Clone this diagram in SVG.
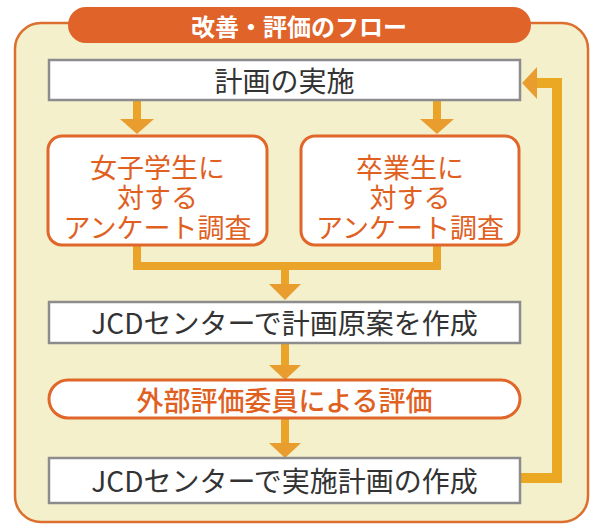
<svg xmlns="http://www.w3.org/2000/svg" width="595" height="524" viewBox="0 0 595 524">
<style>
  text { font-family: "Noto Sans CJK JP", "Noto Sans", sans-serif; text-anchor: middle; dominant-baseline: central; }
  .gbox { fill: #ffffff; stroke: #8c8c8c; stroke-width: 2.5; }
  .obox { fill: #ffffff; stroke: #e0662a; stroke-width: 3; }
  .gtxt { fill: #333333; font-size: 28px; }
  .otxt { fill: #e0611f; font-size: 27px; }
  .flow { fill: none; stroke: #eaa42a; stroke-width: 8; }
  .loop { fill: none; stroke: #eaa823; stroke-width: 10; }
  .head { fill: #e99d2f; }
</style>
<rect width="595" height="524" fill="#ffffff"/>
<g id="panel">
  <rect x="15" y="23" width="573" height="499" rx="26" fill="#f5f0cc" stroke="#dd6f2e" stroke-width="2.5"/>
</g>
<g id="title">
  <rect x="68" y="7" width="463" height="36" rx="18" fill="#e0632a"/>
  <text x="299" y="25" fill="#ffffff" font-size="24" font-weight="bold">改善・評価のフロー</text>
</g>
<g id="connectors">
  <line class="flow" x1="137" y1="100" x2="137" y2="120"/>
  <polygon class="head" points="120,119 154,119 137,134"/>
  <line class="flow" x1="437" y1="100" x2="437" y2="120"/>
  <polygon class="head" points="420,119 454,119 437,134"/>
  <polyline class="flow" points="137,245 137,266 437,266 437,245"/>
  <line class="flow" x1="285" y1="266" x2="285" y2="285"/>
  <polygon class="head" points="269,284 301,284 285,300"/>
  <line class="flow" x1="285" y1="343" x2="285" y2="366"/>
  <polygon class="head" points="269,365 301,365 285,380"/>
  <line class="flow" x1="285" y1="418" x2="285" y2="444"/>
  <polygon class="head" points="269,443 301,443 285,458"/>
  <polyline class="loop" points="520,478 557,478 557,83 536,83"/>
  <polygon class="head" points="537,67 537,99 522,83" fill="#eaa42a"/>
</g>
<g id="node-plan">
  <rect class="gbox" x="49" y="60" width="471" height="40"/>
  <text class="gtxt" x="284.5" y="80" font-size="29">計画の実施</text>
</g>
<g id="node-survey-female">
  <rect class="obox" x="48" y="136" width="219" height="109" rx="14"/>
  <text class="otxt"><tspan x="157.5" y="166">女子学生に</tspan><tspan x="157.5" y="196">対する</tspan><tspan x="157.5" y="226">アンケート調査</tspan></text>
</g>
<g id="node-survey-graduate">
  <rect class="obox" x="301" y="136" width="218" height="109" rx="14"/>
  <text class="otxt"><tspan x="410" y="166">卒業生に</tspan><tspan x="410" y="196">対する</tspan><tspan x="410" y="226">アンケート調査</tspan></text>
</g>
<g id="node-draft">
  <rect class="gbox" x="49" y="302" width="471" height="41"/>
  <text class="gtxt" x="284.5" y="322">JCDセンターで計画原案を作成</text>
</g>
<g id="node-evaluation">
  <rect class="obox" x="49" y="380" width="471" height="38" rx="19"/>
  <text class="otxt" x="284.5" y="399" font-size="28.5" font-weight="500">外部評価委員による評価</text>
</g>
<g id="node-implementation-plan">
  <rect class="gbox" x="49" y="458" width="471" height="45"/>
  <text class="gtxt" x="284.5" y="480">JCDセンターで実施計画の作成</text>
</g>
</svg>
